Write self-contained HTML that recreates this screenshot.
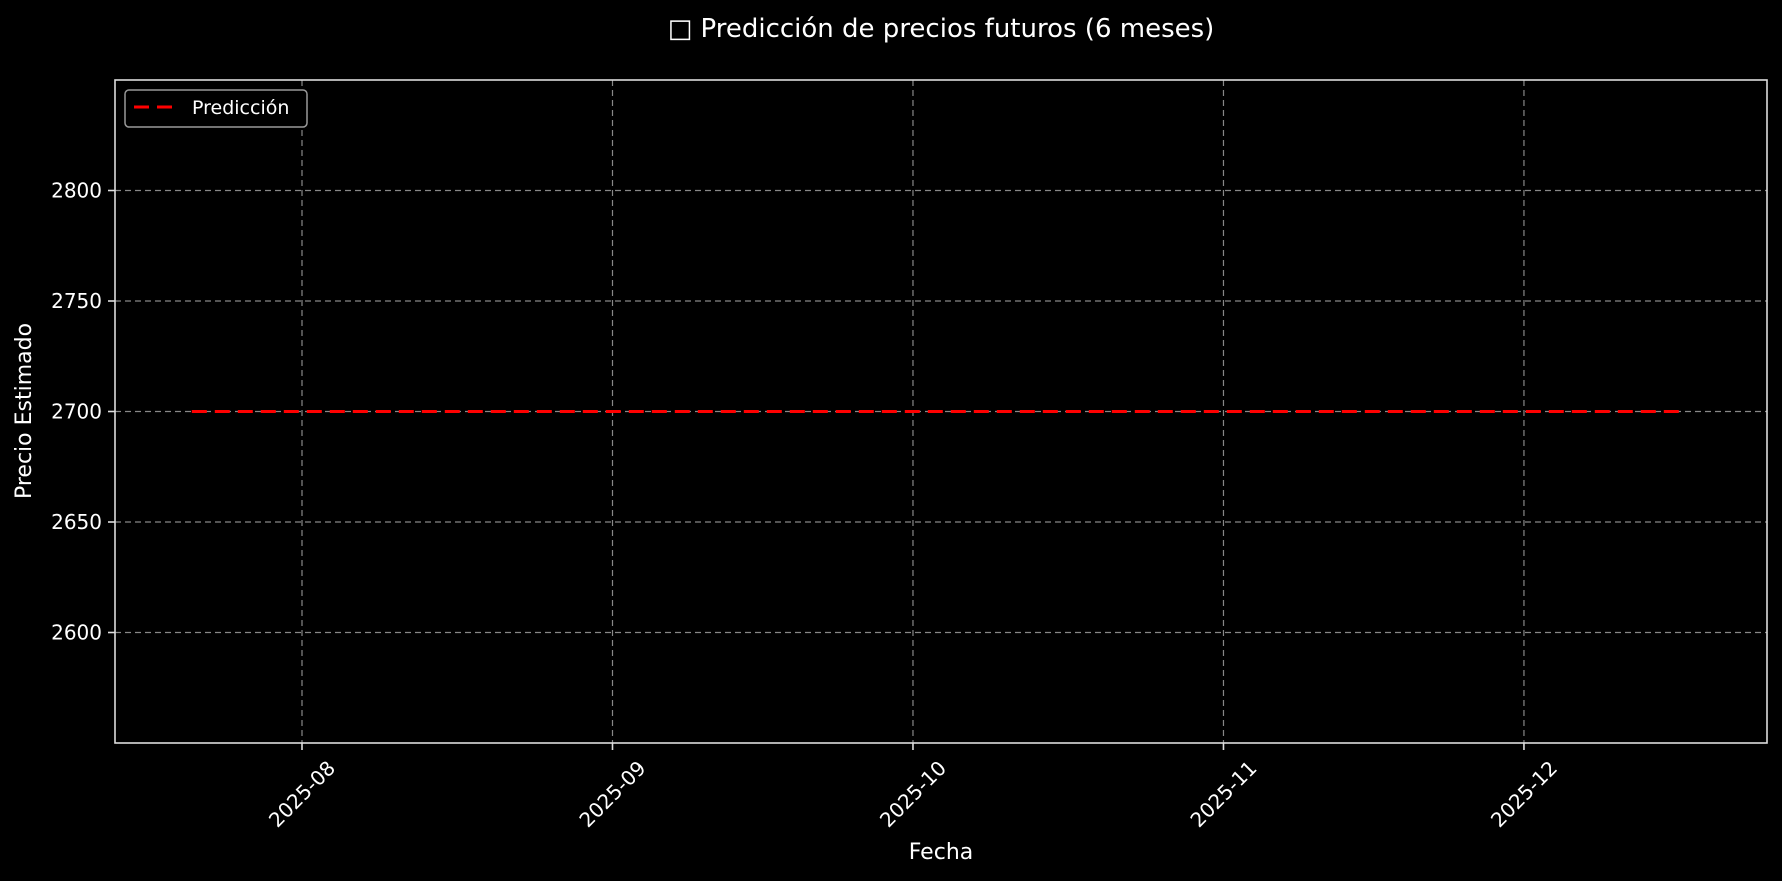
<!DOCTYPE html>
<html><head><meta charset="utf-8"><style>
html,body{margin:0;padding:0;background:#000;}
svg{display:block;font-family:"DejaVu Sans","Liberation Sans",sans-serif;}
</style></head><body>
<svg id="chart" width="1782" height="881" viewBox="0 0 1782 881" xmlns="http://www.w3.org/2000/svg">
<rect width="1782" height="881" fill="#000"/>
<text x="941" y="37" fill="#fff" font-size="26" text-anchor="middle">□ Predicción de precios futuros (6 meses)</text>
<g id="grid"></g>
<g id="series"></g>
<rect x="115" y="80" width="1652" height="663" fill="none" stroke="#ddd" stroke-width="1.6"/>
<g id="ticks"></g>
<text transform="translate(31,411) rotate(-90)" fill="#fff" font-size="22" text-anchor="middle">Precio Estimado</text>
<text x="941" y="859" fill="#fff" font-size="22" text-anchor="middle">Fecha</text>
<g>
<rect x="125" y="90" width="182" height="37" rx="4" fill="#000" stroke="#999" stroke-width="1.5"/>
<line x1="134" y1="107" x2="172" y2="107" stroke="#f00" stroke-width="3" stroke-dasharray="15,8"/>
<text x="192" y="114" fill="#fff" font-size="19">Predicción</text>
</g>
</svg>
<script>
const yTicks = [2600, 2650, 2700, 2750, 2800];
const xTickLabels = ["2025-08", "2025-09", "2025-10", "2025-11", "2025-12"];
const seriesStart = "2025-07-21";
const seriesStepDays = 7;
const predValues = [2700,2700,2700,2700,2700,2700,2700,2700,2700,2700,2700,2700,2700,2700,2700,2700,2700,2700,2700,2700,2700,2700];
const seriesEnd = "2025-12-17";

const NS = "http://www.w3.org/2000/svg";
const L = 115, R = 1767, T = 80, B = 743;
const yMin = 2550, yMax = 2850;
const day = 86400000;
const d0 = Date.UTC(2025, 7, 1);
const xPx = 10.016;
function xs(t){ return 302 + (t - d0) / day * xPx; }
function ys(v){ return B - (v - yMin) / (yMax - yMin) * (B - T); }
function parse(s){ const p = s.split("-").map(Number); return Date.UTC(p[0], p[1]-1, p[2] || 1); }
function mk(tag, attrs, parent){ const e = document.createElementNS(NS, tag); for (const k in attrs) e.setAttribute(k, attrs[k]); parent.appendChild(e); return e; }

const grid = document.getElementById("grid");
const ticks = document.getElementById("ticks");
yTicks.forEach(v => {
  const y = ys(v);
  const g = mk("line", {x1:L, x2:R, y1:y, y2:y, stroke:"#888", "stroke-width":1.2, "stroke-dasharray":"6,4"}, grid);
  
  
  const tk = mk("line", {x1:L-7, x2:L, y1:y, y2:y, stroke:"#ddd", "stroke-width":1.6}, ticks);
  
  
  const t = mk("text", {x:L-13, y:y+7, fill:"#fff", "font-size":20, "text-anchor":"end"}, ticks);
  t.textContent = v;
  
  
});
xTickLabels.forEach(s => {
  const x = xs(parse(s));
  const g = mk("line", {x1:x, x2:x, y1:T, y2:B, stroke:"#888", "stroke-width":1.2, "stroke-dasharray":"6,4"}, grid);
  
  
  const tk = mk("line", {x1:x, x2:x, y1:B, y2:B+7, stroke:"#ddd", "stroke-width":1.6}, ticks);
  
  
  const t = mk("text", {transform:`translate(${x},${B+51}) rotate(-45)`, fill:"#fff", "font-size":20, "text-anchor":"middle", "dominant-baseline":"central"}, ticks);
  t.textContent = s;
  
  
});
const start = parse(seriesStart), end = parse(seriesEnd);
const pts = predValues.map((v, i) => {
  const t = Math.min(start + i * seriesStepDays * day, end);
  return xs(t).toFixed(1) + "," + ys(v).toFixed(1);
});
pts.push(xs(end).toFixed(1) + "," + ys(predValues[predValues.length-1]).toFixed(1));
const line = mk("polyline", {points: pts.join(" "), fill:"none", stroke:"#f00", "stroke-width":3, "stroke-dasharray":"15,8"}, document.getElementById("series"));


</script>
</body></html>
